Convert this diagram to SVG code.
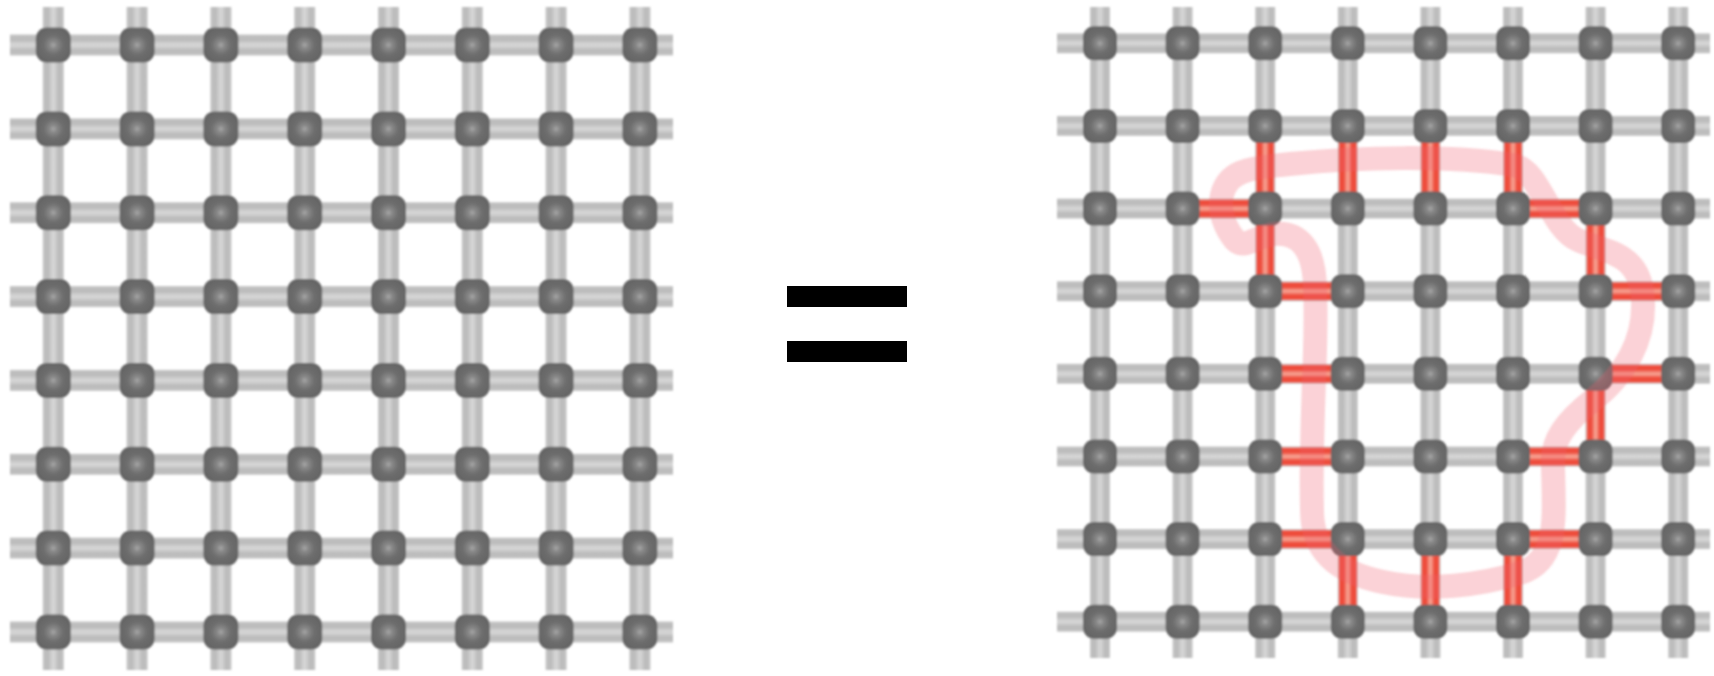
<svg xmlns="http://www.w3.org/2000/svg" xmlns:xlink="http://www.w3.org/1999/xlink" width="1714" height="676" viewBox="0 0 1714 676">
<defs>
<linearGradient id="barH" x1="0" y1="0" x2="0" y2="1">
<stop offset="0" stop-color="#c6c6c6"/><stop offset="0.22" stop-color="#b9b9b9"/><stop offset="0.5" stop-color="#d8d8d8"/><stop offset="0.78" stop-color="#b9b9b9"/><stop offset="1" stop-color="#c6c6c6"/>
</linearGradient>
<linearGradient id="barV" x1="0" y1="0" x2="1" y2="0">
<stop offset="0" stop-color="#c6c6c6"/><stop offset="0.22" stop-color="#b9b9b9"/><stop offset="0.5" stop-color="#d8d8d8"/><stop offset="0.78" stop-color="#b9b9b9"/><stop offset="1" stop-color="#c6c6c6"/>
</linearGradient>
<linearGradient id="redH" x1="0" y1="0" x2="0" y2="1">
<stop offset="0" stop-color="#ee5a48"/><stop offset="0.25" stop-color="#ee4636"/><stop offset="0.5" stop-color="#f7a898"/><stop offset="0.75" stop-color="#ee4636"/><stop offset="1" stop-color="#ee5a48"/>
</linearGradient>
<linearGradient id="redV" x1="0" y1="0" x2="1" y2="0">
<stop offset="0" stop-color="#ee5a48"/><stop offset="0.25" stop-color="#ee4636"/><stop offset="0.5" stop-color="#f7a898"/><stop offset="0.75" stop-color="#ee4636"/><stop offset="1" stop-color="#ee5a48"/>
</linearGradient>
<radialGradient id="nodeG" cx="0.5" cy="0.5" r="0.55">
<stop offset="0" stop-color="#a8a8a8"/><stop offset="0.18" stop-color="#8a8a8a"/><stop offset="0.5" stop-color="#6e6e6e"/><stop offset="1" stop-color="#636363"/>
</radialGradient>
<filter id="soft" x="-5%" y="-5%" width="110%" height="110%"><feGaussianBlur stdDeviation="1"/></filter>
<rect id="nL" x="-17.5" y="-17.5" width="35" height="35" rx="11" fill="url(#nodeG)"/>
<rect id="nR" x="-17" y="-17" width="34" height="34" rx="11" fill="url(#nodeG)"/>
</defs>
<style>
.hl{fill:url(#barH)}
.vl{fill:url(#barV)}
.rh{fill:url(#redH)}
.rv{fill:url(#redV)}
.loop{fill:none;stroke:#f06070;stroke-opacity:0.28;stroke-width:24;stroke-linejoin:round}
</style>
<rect width="1714" height="676" fill="#ffffff"/>

<g id="left-lattice" filter="url(#soft)">
<g id="left-connectors">
<rect class="vl" x="42.8" y="7" width="21" height="663"/>
<rect class="vl" x="126.6" y="7" width="21" height="663"/>
<rect class="vl" x="210.4" y="7" width="21" height="663"/>
<rect class="vl" x="294.2" y="7" width="21" height="663"/>
<rect class="vl" x="378" y="7" width="21" height="663"/>
<rect class="vl" x="461.8" y="7" width="21" height="663"/>
<rect class="vl" x="545.6" y="7" width="21" height="663"/>
<rect class="vl" x="629.4" y="7" width="21" height="663"/>
<rect class="hl" x="10" y="34.5" width="663" height="21"/>
<rect class="hl" x="10" y="118.4" width="663" height="21"/>
<rect class="hl" x="10" y="202.2" width="663" height="21"/>
<rect class="hl" x="10" y="286.1" width="663" height="21"/>
<rect class="hl" x="10" y="369.9" width="663" height="21"/>
<rect class="hl" x="10" y="453.8" width="663" height="21"/>
<rect class="hl" x="10" y="537.6" width="663" height="21"/>
<rect class="hl" x="10" y="621.5" width="663" height="21"/>
</g>
<g id="left-nodes">
<use id="L00" href="#nL" x="53.3" y="45"/><use id="L01" href="#nL" x="137.1" y="45"/><use id="L02" href="#nL" x="220.9" y="45"/><use id="L03" href="#nL" x="304.7" y="45"/><use id="L04" href="#nL" x="388.5" y="45"/><use id="L05" href="#nL" x="472.3" y="45"/><use id="L06" href="#nL" x="556.1" y="45"/><use id="L07" href="#nL" x="639.9" y="45"/>
<use id="L10" href="#nL" x="53.3" y="128.9"/><use id="L11" href="#nL" x="137.1" y="128.9"/><use id="L12" href="#nL" x="220.9" y="128.9"/><use id="L13" href="#nL" x="304.7" y="128.9"/><use id="L14" href="#nL" x="388.5" y="128.9"/><use id="L15" href="#nL" x="472.3" y="128.9"/><use id="L16" href="#nL" x="556.1" y="128.9"/><use id="L17" href="#nL" x="639.9" y="128.9"/>
<use id="L20" href="#nL" x="53.3" y="212.7"/><use id="L21" href="#nL" x="137.1" y="212.7"/><use id="L22" href="#nL" x="220.9" y="212.7"/><use id="L23" href="#nL" x="304.7" y="212.7"/><use id="L24" href="#nL" x="388.5" y="212.7"/><use id="L25" href="#nL" x="472.3" y="212.7"/><use id="L26" href="#nL" x="556.1" y="212.7"/><use id="L27" href="#nL" x="639.9" y="212.7"/>
<use id="L30" href="#nL" x="53.3" y="296.6"/><use id="L31" href="#nL" x="137.1" y="296.6"/><use id="L32" href="#nL" x="220.9" y="296.6"/><use id="L33" href="#nL" x="304.7" y="296.6"/><use id="L34" href="#nL" x="388.5" y="296.6"/><use id="L35" href="#nL" x="472.3" y="296.6"/><use id="L36" href="#nL" x="556.1" y="296.6"/><use id="L37" href="#nL" x="639.9" y="296.6"/>
<use id="L40" href="#nL" x="53.3" y="380.4"/><use id="L41" href="#nL" x="137.1" y="380.4"/><use id="L42" href="#nL" x="220.9" y="380.4"/><use id="L43" href="#nL" x="304.7" y="380.4"/><use id="L44" href="#nL" x="388.5" y="380.4"/><use id="L45" href="#nL" x="472.3" y="380.4"/><use id="L46" href="#nL" x="556.1" y="380.4"/><use id="L47" href="#nL" x="639.9" y="380.4"/>
<use id="L50" href="#nL" x="53.3" y="464.3"/><use id="L51" href="#nL" x="137.1" y="464.3"/><use id="L52" href="#nL" x="220.9" y="464.3"/><use id="L53" href="#nL" x="304.7" y="464.3"/><use id="L54" href="#nL" x="388.5" y="464.3"/><use id="L55" href="#nL" x="472.3" y="464.3"/><use id="L56" href="#nL" x="556.1" y="464.3"/><use id="L57" href="#nL" x="639.9" y="464.3"/>
<use id="L60" href="#nL" x="53.3" y="548.1"/><use id="L61" href="#nL" x="137.1" y="548.1"/><use id="L62" href="#nL" x="220.9" y="548.1"/><use id="L63" href="#nL" x="304.7" y="548.1"/><use id="L64" href="#nL" x="388.5" y="548.1"/><use id="L65" href="#nL" x="472.3" y="548.1"/><use id="L66" href="#nL" x="556.1" y="548.1"/><use id="L67" href="#nL" x="639.9" y="548.1"/>
<use id="L70" href="#nL" x="53.3" y="632"/><use id="L71" href="#nL" x="137.1" y="632"/><use id="L72" href="#nL" x="220.9" y="632"/><use id="L73" href="#nL" x="304.7" y="632"/><use id="L74" href="#nL" x="388.5" y="632"/><use id="L75" href="#nL" x="472.3" y="632"/><use id="L76" href="#nL" x="556.1" y="632"/><use id="L77" href="#nL" x="639.9" y="632"/>
</g>
</g>

<g id="equals">
<rect x="787" y="286" width="120" height="21" fill="#000000"/>
<rect x="787" y="341" width="120" height="21" fill="#000000"/>
</g>

<g id="right-lattice" filter="url(#soft)">
<g id="right-connectors">
<rect class="vl" x="1090" y="7" width="20" height="651"/>
<rect class="vl" x="1172.6" y="7" width="20" height="651"/>
<rect class="vl" x="1255.2" y="7" width="20" height="651"/>
<rect class="vl" x="1337.8" y="7" width="20" height="651"/>
<rect class="vl" x="1420.4" y="7" width="20" height="651"/>
<rect class="vl" x="1503" y="7" width="20" height="651"/>
<rect class="vl" x="1585.6" y="7" width="20" height="651"/>
<rect class="vl" x="1668.2" y="7" width="20" height="651"/>
<rect class="hl" x="1057" y="33.3" width="653" height="20"/>
<rect class="hl" x="1057" y="115.9" width="653" height="20"/>
<rect class="hl" x="1057" y="198.6" width="653" height="20"/>
<rect class="hl" x="1057" y="281.2" width="653" height="20"/>
<rect class="hl" x="1057" y="363.8" width="653" height="20"/>
<rect class="hl" x="1057" y="446.5" width="653" height="20"/>
<rect class="hl" x="1057" y="529.1" width="653" height="20"/>
<rect class="hl" x="1057" y="611.7" width="653" height="20"/>
</g>
<g id="cut-bonds">
<rect class="rv" x="1256.2" y="125.9" width="18" height="82.7"/>
<rect class="rv" x="1338.8" y="125.9" width="18" height="82.7"/>
<rect class="rv" x="1421.4" y="125.9" width="18" height="82.7"/>
<rect class="rv" x="1504" y="125.9" width="18" height="82.7"/>
<rect class="rv" x="1256.2" y="208.6" width="18" height="82.6"/>
<rect class="rv" x="1586.6" y="208.6" width="18" height="82.6"/>
<rect class="rv" x="1586.6" y="373.8" width="18" height="82.7"/>
<rect class="rv" x="1338.8" y="539.1" width="18" height="82.6"/>
<rect class="rv" x="1421.4" y="539.1" width="18" height="82.6"/>
<rect class="rv" x="1504" y="539.1" width="18" height="82.6"/>
<rect class="rh" x="1182.6" y="199.6" width="82.6" height="18"/>
<rect class="rh" x="1513" y="199.6" width="82.6" height="18"/>
<rect class="rh" x="1265.2" y="282.2" width="82.6" height="18"/>
<rect class="rh" x="1595.6" y="282.2" width="82.6" height="18"/>
<rect class="rh" x="1265.2" y="364.8" width="82.6" height="18"/>
<rect class="rh" x="1595.6" y="364.8" width="82.6" height="18"/>
<rect class="rh" x="1265.2" y="447.5" width="82.6" height="18"/>
<rect class="rh" x="1513" y="447.5" width="82.6" height="18"/>
<rect class="rh" x="1265.2" y="530.1" width="82.6" height="18"/>
<rect class="rh" x="1513" y="530.1" width="82.6" height="18"/>
</g>
<g id="right-nodes">
<use id="R00" href="#nR" x="1100" y="43.3"/><use id="R01" href="#nR" x="1182.6" y="43.3"/><use id="R02" href="#nR" x="1265.2" y="43.3"/><use id="R03" href="#nR" x="1347.8" y="43.3"/><use id="R04" href="#nR" x="1430.4" y="43.3"/><use id="R05" href="#nR" x="1513" y="43.3"/><use id="R06" href="#nR" x="1595.6" y="43.3"/><use id="R07" href="#nR" x="1678.2" y="43.3"/>
<use id="R10" href="#nR" x="1100" y="125.9"/><use id="R11" href="#nR" x="1182.6" y="125.9"/><use id="R12" href="#nR" x="1265.2" y="125.9"/><use id="R13" href="#nR" x="1347.8" y="125.9"/><use id="R14" href="#nR" x="1430.4" y="125.9"/><use id="R15" href="#nR" x="1513" y="125.9"/><use id="R16" href="#nR" x="1595.6" y="125.9"/><use id="R17" href="#nR" x="1678.2" y="125.9"/>
<use id="R20" href="#nR" x="1100" y="208.6"/><use id="R21" href="#nR" x="1182.6" y="208.6"/><use id="R22" href="#nR" x="1265.2" y="208.6"/><use id="R23" href="#nR" x="1347.8" y="208.6"/><use id="R24" href="#nR" x="1430.4" y="208.6"/><use id="R25" href="#nR" x="1513" y="208.6"/><use id="R26" href="#nR" x="1595.6" y="208.6"/><use id="R27" href="#nR" x="1678.2" y="208.6"/>
<use id="R30" href="#nR" x="1100" y="291.2"/><use id="R31" href="#nR" x="1182.6" y="291.2"/><use id="R32" href="#nR" x="1265.2" y="291.2"/><use id="R33" href="#nR" x="1347.8" y="291.2"/><use id="R34" href="#nR" x="1430.4" y="291.2"/><use id="R35" href="#nR" x="1513" y="291.2"/><use id="R36" href="#nR" x="1595.6" y="291.2"/><use id="R37" href="#nR" x="1678.2" y="291.2"/>
<use id="R40" href="#nR" x="1100" y="373.8"/><use id="R41" href="#nR" x="1182.6" y="373.8"/><use id="R42" href="#nR" x="1265.2" y="373.8"/><use id="R43" href="#nR" x="1347.8" y="373.8"/><use id="R44" href="#nR" x="1430.4" y="373.8"/><use id="R45" href="#nR" x="1513" y="373.8"/><use id="R46" href="#nR" x="1595.6" y="373.8"/><use id="R47" href="#nR" x="1678.2" y="373.8"/>
<use id="R50" href="#nR" x="1100" y="456.5"/><use id="R51" href="#nR" x="1182.6" y="456.5"/><use id="R52" href="#nR" x="1265.2" y="456.5"/><use id="R53" href="#nR" x="1347.8" y="456.5"/><use id="R54" href="#nR" x="1430.4" y="456.5"/><use id="R55" href="#nR" x="1513" y="456.5"/><use id="R56" href="#nR" x="1595.6" y="456.5"/><use id="R57" href="#nR" x="1678.2" y="456.5"/>
<use id="R60" href="#nR" x="1100" y="539.1"/><use id="R61" href="#nR" x="1182.6" y="539.1"/><use id="R62" href="#nR" x="1265.2" y="539.1"/><use id="R63" href="#nR" x="1347.8" y="539.1"/><use id="R64" href="#nR" x="1430.4" y="539.1"/><use id="R65" href="#nR" x="1513" y="539.1"/><use id="R66" href="#nR" x="1595.6" y="539.1"/><use id="R67" href="#nR" x="1678.2" y="539.1"/>
<use id="R70" href="#nR" x="1100" y="621.7"/><use id="R71" href="#nR" x="1182.6" y="621.7"/><use id="R72" href="#nR" x="1265.2" y="621.7"/><use id="R73" href="#nR" x="1347.8" y="621.7"/><use id="R74" href="#nR" x="1430.4" y="621.7"/><use id="R75" href="#nR" x="1513" y="621.7"/><use id="R76" href="#nR" x="1595.6" y="621.7"/><use id="R77" href="#nR" x="1678.2" y="621.7"/>
</g>
<path id="cut-loop" class="loop" d="M 1290 164 C 1360 157 1450 155 1513 165 C 1540 169 1550 228 1578 240 C 1605 252 1641 252 1643 300 C 1645 340 1625 375 1593 400 C 1565 422 1553 440 1553 460 C 1553 510 1562 560 1520 573 C 1480 585 1430 592 1383 582 C 1335 572 1312 550 1312 510 C 1310 420 1318 340 1315 290 C 1315 250 1300 232 1275 234 C 1255 236 1245 250 1235 240 C 1225 228 1218 210 1222 195 C 1228 172 1245 168 1290 164 Z"/>
</g>
</svg>
